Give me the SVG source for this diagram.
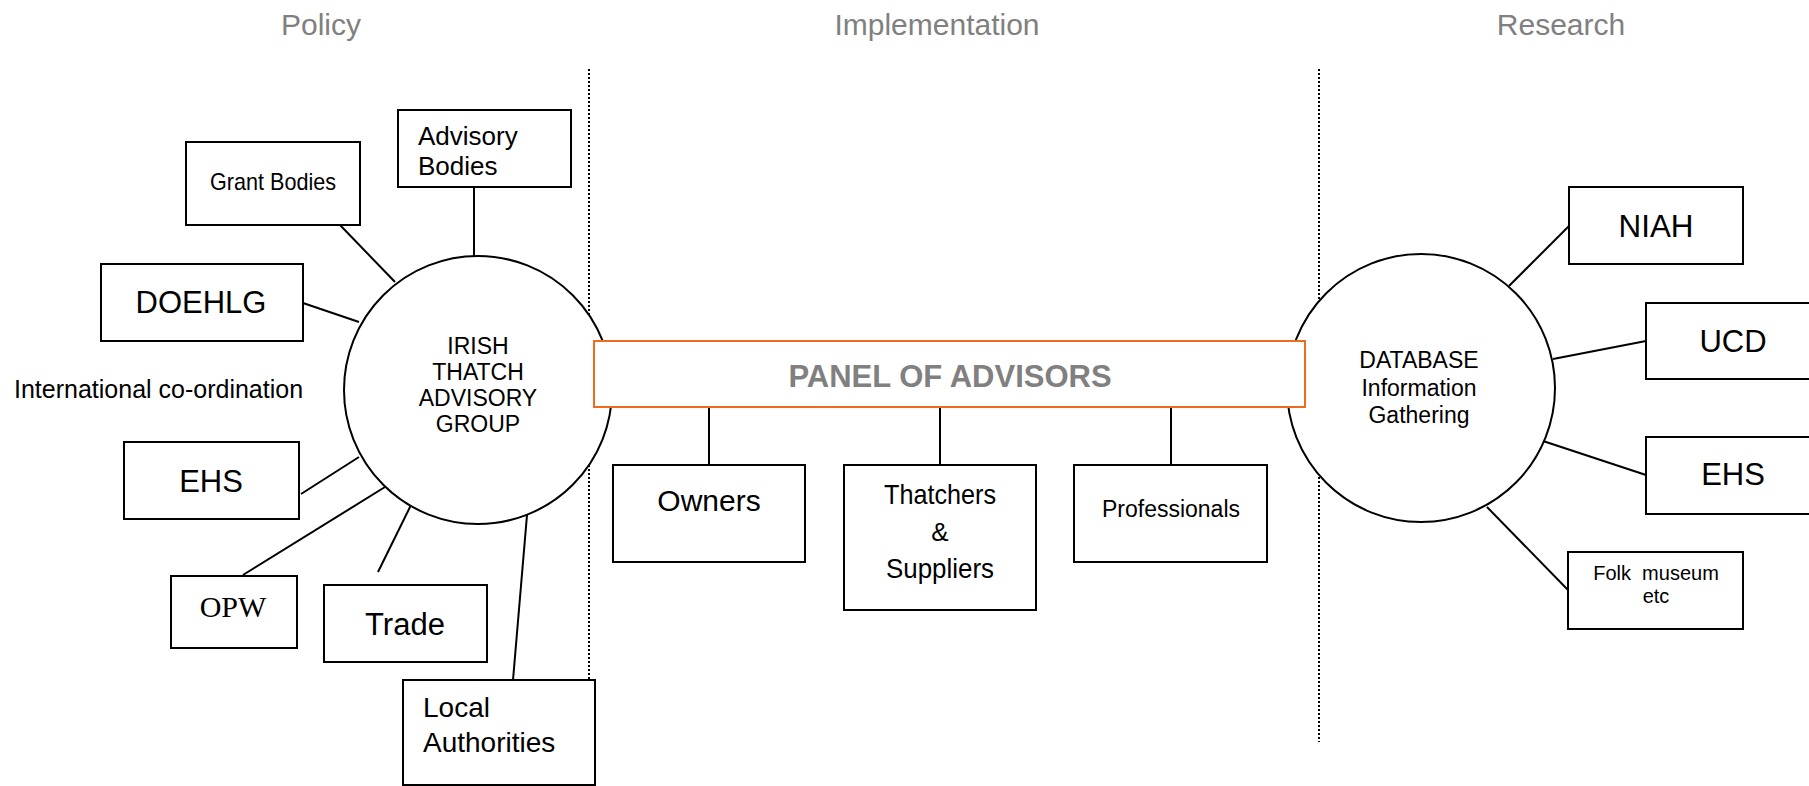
<svg xmlns="http://www.w3.org/2000/svg" width="1809" height="786" viewBox="0 0 1809 786">
<style>
text{font-family:"Liberation Sans",Arial,sans-serif;fill:#000}
.hd{font-size:30px;fill:#808080;text-anchor:middle}
.box{fill:#fff;stroke:#000;stroke-width:2}
.hub{fill:#fff;stroke:#000;stroke-width:2}
.ln{stroke:#000;stroke-width:2;fill:none}
.dot{stroke:#000;stroke-width:2;stroke-dasharray:2 2;fill:none}
.c{text-anchor:middle}
</style>
<rect width="1809" height="786" fill="#fff"/>
<g id="headers">
<text class="hd" x="321" y="35">Policy</text>
<text class="hd" x="937" y="35">Implementation</text>
<text class="hd" x="1561" y="35">Research</text>
</g>
<g id="dividers">
<line class="dot" x1="589" y1="69" x2="589" y2="680"/>
<line class="dot" x1="1319" y1="69" x2="1319" y2="742"/>
</g>
<g id="connectors">
<line class="ln" x1="474" y1="187" x2="474" y2="256"/>
<line class="ln" x1="340" y1="225" x2="395" y2="282"/>
<line class="ln" x1="303" y1="303" x2="359" y2="322"/>
<line class="ln" x1="301" y1="494" x2="359" y2="457"/>
<line class="ln" x1="243" y1="575" x2="385" y2="487"/>
<line class="ln" x1="378" y1="572" x2="411" y2="505"/>
<line class="ln" x1="513" y1="680" x2="527" y2="515"/>
<line class="ln" x1="709" y1="407" x2="709" y2="465"/>
<line class="ln" x1="940" y1="407" x2="940" y2="465"/>
<line class="ln" x1="1171" y1="407" x2="1171" y2="465"/>
<line class="ln" x1="1509" y1="286" x2="1569" y2="226"/>
<line class="ln" x1="1553" y1="359" x2="1646" y2="341"/>
<line class="ln" x1="1543" y1="441" x2="1646" y2="475"/>
<line class="ln" x1="1487" y1="507" x2="1568" y2="590"/>
</g>
<g id="irish-thatch-advisory-group">
<circle class="hub" cx="478" cy="390" r="134"/>
<text class="c" x="478" y="354" font-size="23">IRISH</text>
<text class="c" x="478" y="380" font-size="23">THATCH</text>
<text class="c" x="478" y="406" font-size="23">ADVISORY</text>
<text class="c" x="478" y="432" font-size="23">GROUP</text>
</g>
<g id="database">
<circle class="hub" cx="1421" cy="388" r="134"/>
<text class="c" x="1419" y="368" font-size="23">DATABASE</text>
<text class="c" x="1419" y="396" font-size="23">Information</text>
<text class="c" x="1419" y="423" font-size="23">Gathering</text>
</g>
<g id="panel-of-advisors">
<rect x="594" y="341" width="711" height="66" fill="#fff" stroke="#f26b1d" stroke-width="2"/>
<text class="c" x="950" y="387" font-size="31" font-weight="bold" style="fill:#808080">PANEL OF ADVISORS</text>
</g>
<g id="advisory-bodies">
<rect class="box" x="398" y="110" width="173" height="77"/>
<text x="418" y="145" font-size="26">Advisory</text>
<text x="418" y="175" font-size="26">Bodies</text>
</g>
<g id="grant-bodies">
<rect class="box" x="186" y="142" width="174" height="83"/>
<text class="c" x="273" y="190" font-size="24" textLength="126" lengthAdjust="spacingAndGlyphs">Grant Bodies</text>
</g>
<g id="doehlg">
<rect class="box" x="101" y="264" width="202" height="77"/>
<text class="c" x="201" y="313" font-size="31">DOEHLG</text>
</g>
<g id="international">
<text x="14" y="398" font-size="25">International co-ordination</text>
</g>
<g id="ehs-left">
<rect class="box" x="124" y="442" width="175" height="77"/>
<text class="c" x="211" y="492" font-size="31">EHS</text>
</g>
<g id="opw">
<rect class="box" x="171" y="576" width="126" height="72"/>
<text class="c" x="233" y="617" font-size="30" style="font-family:'Liberation Serif','Times New Roman',serif">OPW</text>
</g>
<g id="trade">
<rect class="box" x="324" y="585" width="163" height="77"/>
<text class="c" x="405" y="635" font-size="31">Trade</text>
</g>
<g id="local-authorities">
<rect class="box" x="403" y="680" width="192" height="105"/>
<text x="423" y="717" font-size="28">Local</text>
<text x="423" y="752" font-size="28">Authorities</text>
</g>
<g id="owners">
<rect class="box" x="613" y="465" width="192" height="97"/>
<text class="c" x="709" y="511" font-size="30">Owners</text>
</g>
<g id="thatchers-suppliers">
<rect class="box" x="844" y="465" width="192" height="145"/>
<text class="c" x="940" y="504" font-size="28" textLength="112" lengthAdjust="spacingAndGlyphs">Thatchers</text>
<text class="c" x="940" y="541" font-size="26">&amp;</text>
<text class="c" x="940" y="578" font-size="28" textLength="108" lengthAdjust="spacingAndGlyphs">Suppliers</text>
</g>
<g id="professionals">
<rect class="box" x="1074" y="465" width="193" height="97"/>
<text class="c" x="1171" y="517" font-size="23">Professionals</text>
</g>
<g id="niah">
<rect class="box" x="1569" y="187" width="174" height="77"/>
<text class="c" x="1656" y="237" font-size="31" textLength="75" lengthAdjust="spacingAndGlyphs">NIAH</text>
</g>
<g id="ucd">
<rect class="box" x="1646" y="303" width="200" height="76"/>
<text class="c" x="1733" y="352" font-size="31">UCD</text>
</g>
<g id="ehs-right">
<rect class="box" x="1646" y="437" width="200" height="77"/>
<text class="c" x="1733" y="485" font-size="31">EHS</text>
</g>
<g id="folk-museum">
<rect class="box" x="1568" y="552" width="175" height="77"/>
<text class="c" x="1656" y="580" font-size="20" xml:space="preserve">Folk  museum</text>
<text class="c" x="1656" y="603" font-size="20">etc</text>
</g>
</svg>
